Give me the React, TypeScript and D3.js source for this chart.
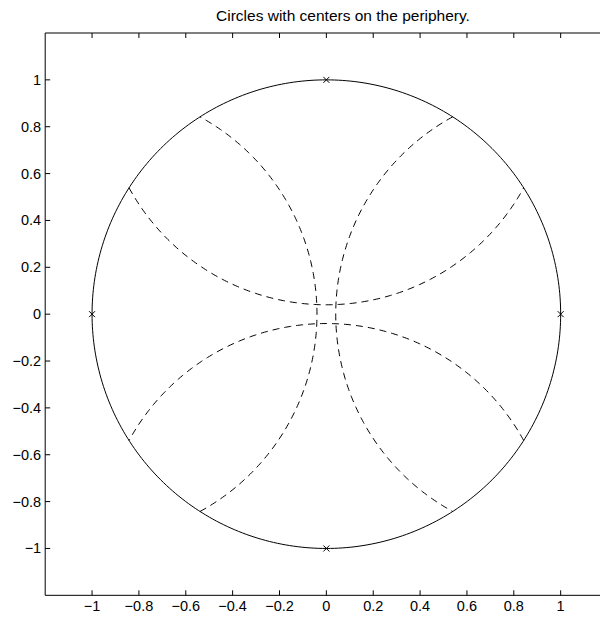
import React from "react";
import * as d3 from "d3";

const title = "Circles with centers on the periphery.";
const xTicks = [-1, -0.8, -0.6, -0.4, -0.2, 0, 0.2, 0.4, 0.6, 0.8, 1];
const yTicks = [-1, -0.8, -0.6, -0.4, -0.2, 0, 0.2, 0.4, 0.6, 0.8, 1];
const centerX = [1, 0, -1, 0];
const centerY = [0, 1, 0, -1];
const radius = 0.96;
const xDomain = [-1.2, 1.4];
const yDomain = [-1.2, 1.2];

const W = 600, H = 621;
const left = 45.2, top = 33;
const pxPerUnit = 234.3;

export default function App() {
  const x = d3.scaleLinear().domain(xDomain).range([left, left + pxPerUnit * (xDomain[1] - xDomain[0])]);
  const y = d3.scaleLinear().domain(yDomain).range([top + pxPerUnit * (yDomain[1] - yDomain[0]), top]);
  const bottom = y(yDomain[0]);
  const right = x(xDomain[1]);
  const line = d3.line<[number, number]>().x(d => x(d[0])).y(d => y(d[1]));

  const unit: [number, number][] = d3.range(0, 361).map(a => [Math.cos(a * Math.PI / 180), Math.sin(a * Math.PI / 180)]);

  const arcs = centerX.map((cx, i) => {
    const cy = centerY[i];
    const base = Math.atan2(-cy, -cx);
    const half = Math.acos(radius / 2);
    const pts: [number, number][] = d3.range(0, 201).map(k => {
      const t = base - half + (2 * half * k) / 200;
      return [cx + radius * Math.cos(t), cy + radius * Math.sin(t)];
    });
    return pts;
  });

  const fmt = (v: number) => (v < 0 ? "\u2212" : "") + String(Math.abs(v));
  const font = "Liberation Sans, Arial, Helvetica, sans-serif";

  return (
    <svg width={W} height={H} style={{ position: "absolute", left: 0, top: 0, background: "#fff" }}>
      <rect x={0} y={0} width={W} height={H} fill="#fff" />
      <text x={343} y={21} textAnchor="middle" fontFamily={font} fontSize={15.5} fill="#000">{title}</text>
      <path d={`M${right},${top}H${left}V${bottom}H${right}`} fill="none" stroke="#000" strokeWidth={1} />
      {xTicks.map(t => (
        <g key={"x" + t}>
          <line x1={x(t)} x2={x(t)} y1={bottom} y2={bottom - 5} stroke="#000" />
          <line x1={x(t)} x2={x(t)} y1={top} y2={top + 5} stroke="#000" />
          <text x={x(t)} y={bottom + 16} textAnchor="middle" fontFamily={font} fontSize={14.5} fill="#000">{fmt(t)}</text>
        </g>
      ))}
      {yTicks.map(t => (
        <g key={"y" + t}>
          <line x1={left} x2={left + 5} y1={y(t)} y2={y(t)} stroke="#000" />
          <text x={left - 4} y={y(t) + 5} textAnchor="end" fontFamily={font} fontSize={14.5} fill="#000">{fmt(t)}</text>
        </g>
      ))}
      <path d={line(unit) || ""} fill="none" stroke="#000" strokeWidth={1} />
      {arcs.map((a, i) => (
        <path key={"a" + i} d={line(a) || ""} fill="none" stroke="#000" strokeWidth={1} strokeDasharray="7,5" />
      ))}
      {centerX.map((cx, i) => {
        const px = x(cx), py = y(centerY[i]);
        return (
          <path key={"m" + i} d={`M${px - 3},${py - 3}L${px + 3},${py + 3}M${px - 3},${py + 3}L${px + 3},${py - 3}`} stroke="#000" strokeWidth={1} />
        );
      })}
    </svg>
  );
}
